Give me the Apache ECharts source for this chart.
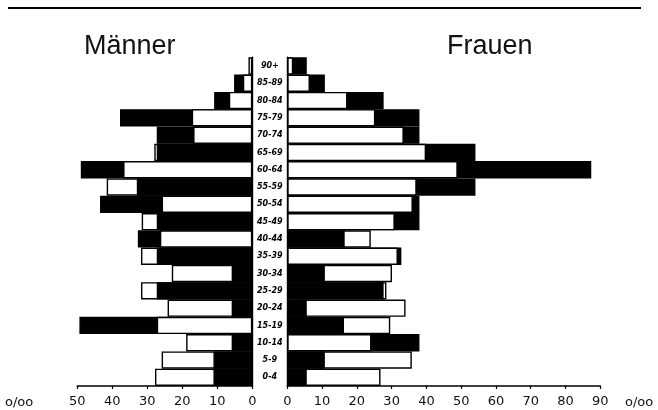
<!DOCTYPE html>
<html>
<head>
<meta charset="utf-8">
<script src="https://cdn.jsdelivr.net/npm/echarts@6/dist/echarts.min.js"></script>
<style>html,body{margin:0;padding:0;background:#fff}#c{width:658px;height:410px}</style>
</head>
<body>
<div id="c"></div>
<script>
// Age groups, bottom to top
var ages = ['0-4','5-9','10-14','15-19','20-24','25-29','30-34','35-39','40-44','45-49','50-54','55-59','60-64','65-69','70-74','75-79','80-84','85-89','90+'];
// Männer (per mille)
var maleBlack = [11.1, 11.1, 5.9, 49.4, 5.9, 27.3, 5.9, 27.3, 32.7, 27.3, 43.5, 33, 49, 27.3, 27.3, 37.8, 10.9, 5.2, 0];
var maleWhite = [27.8, 25.9, 18.9, 27.3, 24.2, 31.8, 23, 31.8, 26.4, 31.6, 25.9, 41.6, 36.9, 28, 16.9, 17.3, 6.7, 2.7, 1.1];
// Frauen (per mille)
var femaleBlack = [5.6, 10.8, 38, 16.3, 5.6, 27.7, 10.8, 32.8, 16.5, 38, 38, 54.1, 87.4, 54.1, 38, 38, 27.7, 10.8, 5.6];
var femaleWhite = [26.8, 35.8, 24.2, 29.6, 34, 28.5, 30.1, 31.8, 24, 30.9, 36.1, 37.2, 49, 39.9, 33.5, 25.3, 17.3, 6.5, 1.7];
var leftTicks = [0, 10, 20, 30, 40, 50];
var rightTicks = [0, 10, 20, 30, 40, 50, 60, 70, 80, 90];

function split(black, white) {
  var back = [], front = [];
  for (var i = 0; i < black.length; i++) {
    var b = black[i], w = white[i];
    var bigIsBlack = b >= w;
    back.push({value: Math.max(b, w), itemStyle: {color: bigIsBlack ? '#000' : '#fff'}});
    front.push({value: Math.min(b, w), itemStyle: {color: bigIsBlack ? '#fff' : '#000'}});
  }
  return [back, front];
}
var m = split(maleBlack, maleWhite);
var f = split(femaleBlack, femaleWhite);

var barStyle = {borderColor: '#000', borderWidth: 1.4};
var axisFont = {fontFamily: 'DejaVu Sans', fontSize: 13, color: '#111'};

var chart = echarts.init(document.getElementById('c'), null, {renderer: 'canvas'});
chart.setOption({
  animation: false,
  backgroundColor: '#fff',
  grid: [
    {left: 77.3, width: 175, top: 57.3, height: 328.7},
    {left: 287.3, width: 313, top: 57.3, height: 328.7}
  ],
  xAxis: [
    {gridIndex: 0, type: 'value', inverse: true, min: 0, max: 50, interval: 10,
     axisLine: {show: true, lineStyle: {color: '#000', width: 1.6}},
     axisTick: {show: true, length: 3, lineStyle: {color: '#000', width: 1.2}},
     splitLine: {show: false},
     axisLabel: Object.assign({margin: 9, formatter: function(v){return leftTicks.indexOf(v) >= 0 ? String(v) : '';}}, axisFont)},
    {gridIndex: 1, type: 'value', min: 0, max: 90, interval: 10,
     axisLine: {show: true, lineStyle: {color: '#000', width: 1.6}},
     axisTick: {show: true, length: 3, lineStyle: {color: '#000', width: 1.2}},
     splitLine: {show: false},
     axisLabel: Object.assign({margin: 9, formatter: function(v){return rightTicks.indexOf(v) >= 0 ? String(v) : '';}}, axisFont)}
  ],
  yAxis: [
    {gridIndex: 0, type: 'category', data: ages, position: 'right',
     axisLine: {show: true, onZero: false, lineStyle: {color: '#000', width: 1.4}},
     axisTick: {show: false}, axisLabel: {show: false}},
    {gridIndex: 1, type: 'category', data: ages, position: 'left',
     axisLine: {show: true, onZero: false, lineStyle: {color: '#000', width: 1.4}},
     axisTick: {show: false},
     axisLabel: {show: true, margin: 17.5, align: 'center', fontFamily: 'DejaVu Sans', fontSize: 8, fontWeight: 'bold', fontStyle: 'italic', color: '#000'}}
  ],
  series: [
    {type: 'bar', xAxisIndex: 0, yAxisIndex: 0, data: m[0], barWidth: '100%', barGap: '-100%', itemStyle: barStyle},
    {type: 'bar', xAxisIndex: 0, yAxisIndex: 0, data: m[1], barWidth: '100%', barGap: '-100%', itemStyle: barStyle},
    {type: 'bar', xAxisIndex: 1, yAxisIndex: 1, data: f[0], barWidth: '100%', barGap: '-100%', itemStyle: barStyle},
    {type: 'bar', xAxisIndex: 1, yAxisIndex: 1, data: f[1], barWidth: '100%', barGap: '-100%', itemStyle: barStyle}
  ],
  graphic: [
    {type: 'line', shape: {x1: 8, y1: 8, x2: 641, y2: 8}, style: {stroke: '#000', lineWidth: 2}},
    {type: 'text', left: 84, top: 33, style: {text: 'Männer', font: '27px "Liberation Sans", Arial, sans-serif', fill: '#111'}},
    {type: 'text', left: 447, top: 33, style: {text: 'Frauen', font: '27px "Liberation Sans", Arial, sans-serif', fill: '#111'}},
    {type: 'text', left: 5, top: 396, style: {text: 'o/oo', font: '13px "DejaVu Sans"', fill: '#111'}},
    {type: 'text', left: 625, top: 396, style: {text: 'o/oo', font: '13px "DejaVu Sans"', fill: '#111'}}
  ]
});
</script>
</body>
</html>
